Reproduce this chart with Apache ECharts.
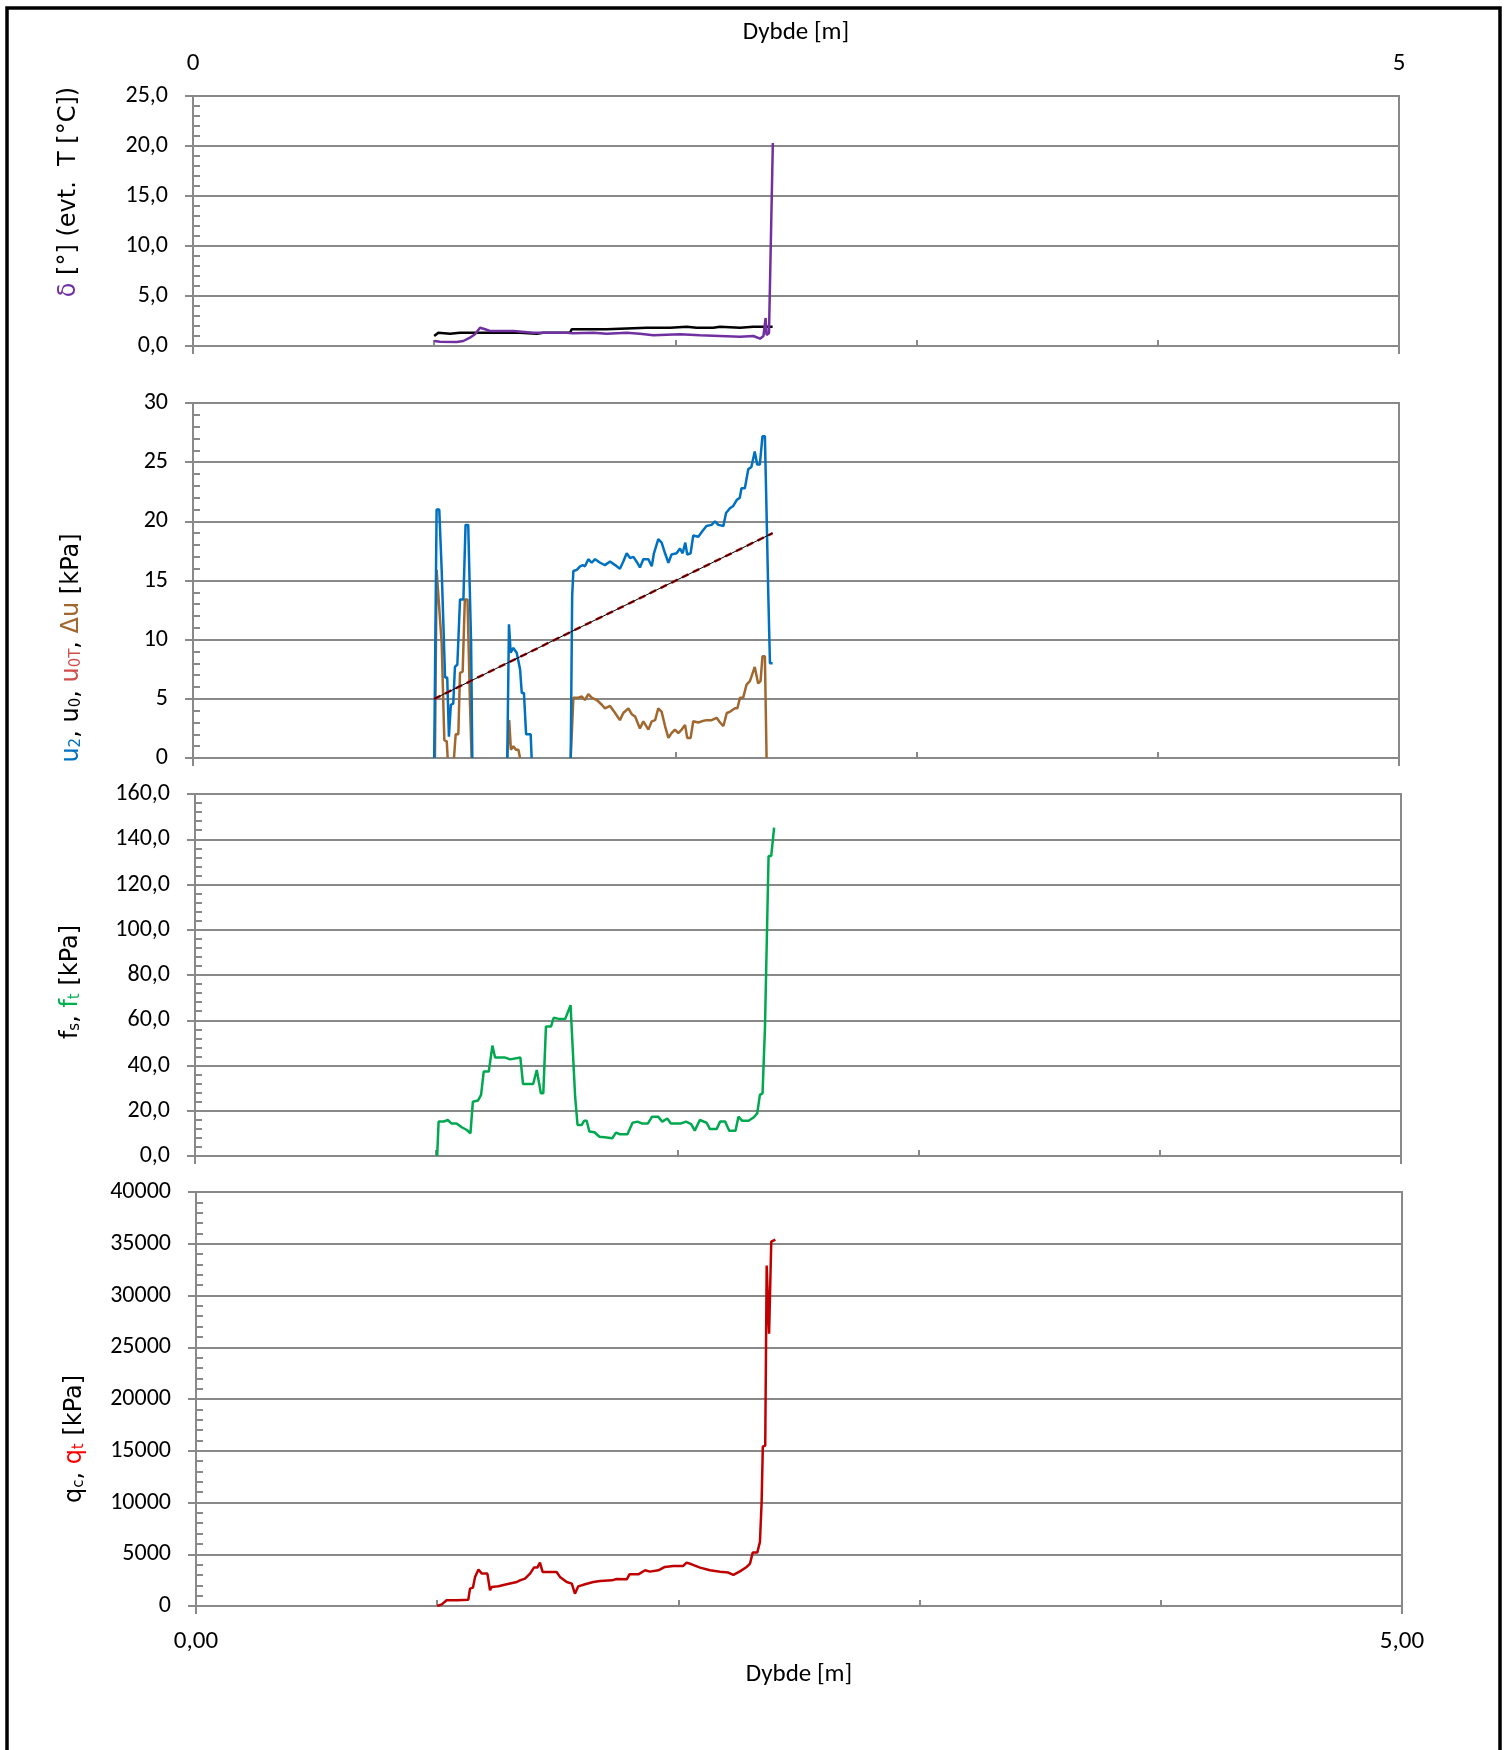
<!DOCTYPE html>
<html>
<head>
<meta charset="utf-8"/>
<title>CPT Dybde</title>
<script src="https://cdn.jsdelivr.net/npm/echarts@6/dist/echarts.min.js"></script>
<style>
    html, body { margin: 0; padding: 0; background: #fff; }
    #main { width: 1506px; height: 1750px; }
</style>
</head>
<body>
<div id="main"></div>
<script>
// --- data (dybde i m) ---
// panel 1: helning (lilla) og sort kurve
var deltaDepth = [1.000, 1.024, 1.093, 1.121, 1.148, 1.169, 1.190, 1.211, 1.231, 1.328, 1.411, 1.549, 1.577, 1.660, 1.715, 1.798, 1.853, 1.909, 2.019, 2.102, 2.185, 2.268, 2.323, 2.351, 2.365, 2.374, 2.378, 2.383, 2.388, 2.404];
var delta = [0.5, 0.43, 0.4, 0.5, 0.83, 1.17, 1.83, 1.67, 1.5, 1.5, 1.33, 1.33, 1.27, 1.33, 1.23, 1.33, 1.23, 1.07, 1.17, 1.07, 1.0, 0.93, 1.0, 0.73, 1.0, 2.8, 1.1, 1.3, 1.3, 20.3];
var blackDepth = [1.000, 1.017, 1.066, 1.107, 1.190, 1.356, 1.425, 1.452, 1.563, 1.570, 1.715, 1.770, 1.881, 1.978, 2.047, 2.088, 2.157, 2.185, 2.268, 2.323, 2.403];
var blackVal = [1.0, 1.33, 1.23, 1.33, 1.33, 1.33, 1.23, 1.33, 1.33, 1.67, 1.67, 1.73, 1.83, 1.83, 1.93, 1.83, 1.83, 1.93, 1.83, 1.93, 1.93];

// panel 2: poretryk (null = hul i kurven)
var u2Depth = [1.000, 1.010, 1.021, 1.031, 1.045, 1.054, 1.061, 1.069, 1.079, 1.086, 1.096, 1.107, 1.121, 1.130, 1.141, 1.153, 1.158,
    1.230,
    1.303, 1.310, 1.317, 1.328, 1.342, 1.356, 1.363, 1.372, 1.381, 1.400, 1.404,
    1.480,
    1.566, 1.572, 1.577, 1.591, 1.605, 1.616, 1.625, 1.639, 1.653, 1.667, 1.688, 1.708, 1.729, 1.750, 1.770, 1.784, 1.798, 1.812, 1.826,
    1.842, 1.853, 1.867, 1.888, 1.902, 1.911, 1.929, 1.943, 1.957, 1.971, 1.984, 2.005, 2.019, 2.030, 2.041, 2.049, 2.063, 2.074, 2.095,
    2.113, 2.129, 2.150, 2.164, 2.178, 2.199, 2.210, 2.226, 2.240, 2.254, 2.267, 2.274, 2.288, 2.302, 2.315, 2.329, 2.339, 2.350, 2.361,
    2.371, 2.378, 2.385, 2.392, 2.403];
var u2 = [0, 21.0, 21.0, 15.9, 6.8, 6.8, 1.8, 4.5, 4.6, 7.7, 7.9, 13.4, 13.4, 19.7, 19.7, 9.7, 0,
    null,
    0, 11.3, 8.9, 9.3, 8.9, 7.5, 5.5, 5.5, 2.0, 2.0, 0,
    null,
    0, 13.7, 15.8, 15.9, 16.2, 16.3, 16.2, 16.8, 16.5, 16.8, 16.5, 16.3, 16.6, 16.3, 16.0, 16.6, 17.3, 16.9, 17.0,
    16.5, 16.1, 16.8, 16.8, 16.2, 17.3, 18.5, 18.2, 17.3, 16.5, 17.2, 17.3, 17.7, 17.3, 18.2, 17.2, 17.3, 18.8, 18.7,
    19.2, 19.6, 19.7, 20.0, 19.7, 19.6, 20.7, 21.1, 21.3, 21.8, 22.0, 22.8, 22.8, 24.4, 24.6, 25.9, 24.8, 24.8, 27.2,
    27.2, 20.7, 13.9, 8.0, 8.0];

var duDepth = [1.003, 1.010, 1.017, 1.031, 1.042, 1.052, 1.056,
    1.070,
    1.082, 1.089, 1.100, 1.107, 1.118, 1.127, 1.138, 1.148, 1.155,
    1.230,
    1.303, 1.311, 1.318, 1.328, 1.339, 1.349, 1.356,
    1.460,
    1.566, 1.577, 1.598, 1.612, 1.625, 1.639, 1.653, 1.674, 1.695, 1.708, 1.729, 1.750, 1.770, 1.784, 1.805, 1.819, 1.833, 1.853,
    1.867, 1.888, 1.902, 1.916, 1.929, 1.943, 1.957, 1.971, 1.984, 1.998, 2.012, 2.026, 2.040, 2.049, 2.063, 2.074, 2.095, 2.109,
    2.129, 2.150, 2.171, 2.185, 2.199, 2.213, 2.226, 2.247, 2.257, 2.268, 2.281, 2.295, 2.309, 2.329, 2.343, 2.353, 2.361, 2.371, 2.378];
var du = [0, 15.9, 15.9, 9.7, 1.5, 1.4, 0,
    null,
    0, 2.0, 2.0, 7.2, 7.3, 13.4, 13.4, 4.9, 0,
    null,
    0, 3.2, 0.7, 1.0, 0.7, 0.7, 0,
    null,
    0, 5.1, 5.1, 5.2, 4.9, 5.4, 5.1, 4.9, 4.5, 4.2, 4.4, 3.8, 3.2, 3.8, 4.2, 3.7, 3.5, 2.5,
    3.1, 2.4, 3.1, 3.2, 4.2, 3.9, 2.7, 1.7, 2.1, 2.4, 2.1, 2.4, 2.8, 1.7, 1.7, 3.1, 3.0, 3.1,
    3.2, 3.2, 3.4, 3.0, 2.7, 3.8, 3.9, 4.2, 4.2, 5.1, 5.1, 6.2, 6.5, 7.7, 6.3, 6.5, 8.6, 8.6, 0];

var u0Depth = [1.0, 2.403];
var u0 = [5.0, 19.0];

// panel 3: friktion
var ftDepth = [1.004, 1.010, 1.031, 1.048, 1.063, 1.084, 1.106, 1.127, 1.142, 1.152, 1.173, 1.186, 1.197, 1.218, 1.233, 1.244,
    1.286, 1.307, 1.349, 1.360, 1.402, 1.417, 1.434, 1.444, 1.455, 1.476, 1.487, 1.508, 1.535, 1.557, 1.565, 1.576, 1.586,
    1.603, 1.614, 1.624, 1.635, 1.656, 1.677, 1.698, 1.730, 1.745, 1.762, 1.793, 1.814, 1.835, 1.852, 1.878, 1.895, 1.920,
    1.937, 1.958, 1.973, 2.015, 2.036, 2.057, 2.072, 2.093, 2.121, 2.135, 2.163, 2.177, 2.198, 2.215, 2.241, 2.253, 2.268,
    2.295, 2.317, 2.331, 2.342, 2.353, 2.363, 2.370, 2.378, 2.389, 2.401];
var ft = [0, 15.2, 15.2, 15.9, 14.4, 14.4, 12.7, 11.5, 10.0, 24.0, 24.5, 27.0, 37.3, 37.3, 48.8, 43.5,
    43.5, 42.7, 43.5, 31.8, 31.8, 38.0, 27.7, 27.7, 57.2, 57.2, 61.1, 60.6, 60.6, 66.7, 66.7, 26.2, 13.7,
    13.7, 15.6, 15.6, 10.8, 10.5, 8.5, 8.3, 7.8, 10.3, 9.6, 9.6, 14.7, 15.2, 14.4, 14.4, 17.4, 17.4,
    15.2, 16.6, 14.4, 14.4, 15.2, 14.1, 11.2, 15.9, 14.7, 11.9, 11.9, 15.2, 15.2, 11.2, 11.2, 17.4, 15.6,
    15.6, 17.1, 18.9, 27.0, 27.7, 56.4, 56.4, 132.6, 132.6, 145.1];

// panel 4: spidsmodstand
var qtDepth = [1.000, 1.019, 1.039, 1.081, 1.129, 1.136, 1.148, 1.157, 1.171, 1.185, 1.208, 1.219, 1.226, 1.254, 1.288, 1.330,
    1.343, 1.364, 1.385, 1.401, 1.415, 1.426, 1.437, 1.461, 1.495, 1.509, 1.537, 1.558, 1.571, 1.585, 1.613, 1.647, 1.675,
    1.724, 1.744, 1.786, 1.797, 1.834, 1.862, 1.882, 1.917, 1.944, 1.979, 2.020, 2.034, 2.055, 2.090, 2.131, 2.173, 2.207,
    2.228, 2.255, 2.283, 2.297, 2.308, 2.327, 2.338, 2.345, 2.350, 2.360, 2.366, 2.376, 2.385, 2.402];
var qt = [0, 160, 550, 550, 610, 1680, 1770, 2810, 3520, 3130, 3130, 1520, 1840, 1900, 2100, 2320,
    2480, 2650, 3130, 3710, 3710, 4190, 3290, 3290, 3290, 2810, 2320, 2160, 1190, 1900, 2100, 2320, 2420,
    2480, 2610, 2580, 3060, 3060, 3450, 3320, 3450, 3770, 3870, 3870, 4190, 4030, 3710, 3450, 3320, 3230,
    3000, 3350, 3770, 4100, 5160, 5160, 6190, 10000, 15400, 15500, 32900, 26300, 35200, 35400];

// akser
var yMax = [25, 30, 160, 40000];
var yStep = [5, 5, 20, 5000];

function zip(xs, ys) {
    var out = [];
    for (var i = 0; i < xs.length; i++) {
        out.push(ys[i] === null ? [xs[i], '-'] : [xs[i], ys[i]]);
    }
    return out;
}

var GRAY = '#898989';
var LABEL_FONT = 'Carlito, Lato, sans-serif';
var TITLE_FONT = '"DejaVu Sans", Verdana, sans-serif';

var grids = [
    {left: 193, top: 96, width: 1206, height: 250},
    {left: 193, top: 403, width: 1206, height: 355},
    {left: 195, top: 794, width: 1206, height: 362},
    {left: 196, top: 1192, width: 1206, height: 414}
];
grids.forEach(function (g) {
    g.show = true;
    g.borderColor = GRAY;
    g.borderWidth = 2;
    g.containLabel = false;
});

var xAxes = [];
var yAxes = [];
var yFormat = [
    function (v) { return v.toFixed(1).replace('.', ','); },
    function (v) { return String(v); },
    function (v) { return v.toFixed(1).replace('.', ','); },
    function (v) { return String(v); }
];
for (var i = 0; i < 4; i++) {
    // inner ticks every meter
    xAxes.push({
        type: 'value', gridIndex: i, position: 'bottom', min: 0, max: 5, interval: 1,
        axisLine: {show: true, lineStyle: {color: GRAY, width: 2}},
        axisTick: {show: true, inside: true, length: 6, lineStyle: {color: GRAY, width: 2}},
        axisLabel: {show: false},
        splitLine: {show: false}
    });
    yAxes.push({
        type: 'value', gridIndex: i, position: 'left', min: 0, max: yMax[i], interval: yStep[i],
        axisLine: {show: true, lineStyle: {color: GRAY, width: 2}},
        axisTick: {show: true, inside: false, length: 8, lineStyle: {color: GRAY, width: 2}},
        axisLabel: {
            show: true, margin: 25, color: '#000', fontSize: 24, fontFamily: LABEL_FONT,
            formatter: yFormat[i]
        },
        splitLine: {show: true, lineStyle: {color: GRAY, width: 2}}
    });
}
for (var j = 0; j < 4; j++) {
    // crossing ticks at 0 and 5 m
    var xb = {
        type: 'value', gridIndex: j, position: 'bottom', min: 0, max: 5, interval: 5,
        axisLine: {show: false},
        axisTick: {show: true, inside: false, length: 8, lineStyle: {color: GRAY, width: 2}},
        axisLabel: {show: false},
        splitLine: {show: false}
    };
    if (j === 3) {
        xb.axisLabel = {
            show: true, margin: 23, color: '#000', fontSize: 25, fontFamily: LABEL_FONT,
            formatter: function (v) { return v.toFixed(2).replace('.', ','); }
        };
        xb.name = 'Dybde [m]';
        xb.nameLocation = 'middle';
        xb.nameGap = 56;
        xb.nameTextStyle = {color: '#000', fontSize: 25, fontFamily: LABEL_FONT};
    }
    xAxes.push(xb);
    // minor ticks inside
    yAxes.push({
        type: 'value', gridIndex: j, position: 'left', offset: 0, min: 0, max: yMax[j], interval: yStep[j],
        axisLine: {show: false},
        axisTick: {show: true, inside: true, length: 7, lineStyle: {color: GRAY, width: 2}},
        minorTick: {show: true, splitNumber: 5, length: 7, lineStyle: {color: GRAY, width: 2}},
        axisLabel: {show: false},
        splitLine: {show: false}
    });
}
// top depth axis of first panel
xAxes.push({
    type: 'value', gridIndex: 0, position: 'top', min: 0, max: 5, interval: 5,
    axisLine: {show: false},
    axisTick: {show: false},
    axisLabel: {show: true, margin: 20, color: '#000', fontSize: 25, fontFamily: LABEL_FONT},
    splitLine: {show: false},
    name: 'Dybde [m]',
    nameLocation: 'middle',
    nameGap: 51,
    nameTextStyle: {color: '#000', fontSize: 25, fontFamily: LABEL_FONT}
});

function line(name, xi, yi, data, color, width, extra) {
    var s = {
        name: name, type: 'line', xAxisIndex: xi, yAxisIndex: yi, data: data,
        symbol: 'none', showSymbol: false, connectNulls: false, silent: true,
        lineStyle: {color: color, width: width}
    };
    if (extra) { Object.assign(s.lineStyle, extra); }
    return s;
}

var series = [
    line('T', 0, 0, zip(blackDepth, blackVal), '#000000', 2.5),
    line('delta', 0, 0, zip(deltaDepth, delta), '#7030A0', 2.5),
    line('du', 1, 1, zip(duDepth, du), '#A0672F', 2.5),
    line('u2', 1, 1, zip(u2Depth, u2), '#0070C0', 2.5),
    line('u0T', 1, 1, zip(u0Depth, u0), '#C00000', 2.5, {type: [7, 5]}),
    line('u0', 1, 1, zip(u0Depth, u0), '#000000', 1),
    line('ft', 2, 2, zip(ftDepth, ft), '#00A84F', 2.5),
    line('qt', 3, 3, zip(qtDepth, qt), '#C00000', 2.5)
];

var main = {fontSize: 24, lineHeight: 24, fontFamily: TITLE_FONT};
var sub = {fontSize: 15, lineHeight: 8, verticalAlign: 'bottom', fontFamily: TITLE_FONT};
function st(base, color) {
    var o = Object.assign({}, base);
    o.fill = color;
    o.color = color;
    return o;
}
function title(x, y, text, rich) {
    return {
        type: 'text', x: x, y: y, rotation: Math.PI / 2, z: 10,
        style: {text: text, rich: rich, align: 'center', verticalAlign: 'middle', fill: '#000', fontSize: 24, fontFamily: TITLE_FONT}
    };
}

var graphics = [
    {
        type: 'rect', z: 20, silent: true,
        shape: {x: 7, y: 8, width: 1493, height: 1800},
        style: {fill: 'none', stroke: '#000', lineWidth: 3.5}
    },
    title(69, 192, '{p|δ}{k| [°] (evt.  T [°C])}', {p: st(main, '#7030A0'), k: st(main, '#000')}),
    title(72, 648, '{b|u}{bs|2}{k|, u}{ks|0}{k|, }{r|u}{rs|0T}{k|, }{n|Δu}{k| [kPa]}', {
        b: st(main, '#0070C0'), bs: st(sub, '#0070C0'),
        k: st(main, '#000'), ks: st(sub, '#000'),
        r: st(main, '#D0504D'), rs: st(sub, '#D0504D'),
        n: st(main, '#A0672F')
    }),
    title(71, 982, '{k|f}{ks|s}{k|, }{g|f}{gs|t}{k| [kPa]}', {
        k: st(main, '#000'), ks: st(sub, '#000'),
        g: st(main, '#00B050'), gs: st(sub, '#00B050')
    }),
    title(75, 1439, '{k|q}{ks|c}{k|, }{r|q}{rs|t}{k| [kPa]}', {
        k: st(main, '#000'), ks: st(sub, '#000'),
        r: st(main, '#FF0000'), rs: st(sub, '#FF0000')
    })
];

var chart = echarts.init(document.getElementById('main'), null, {renderer: 'canvas'});
chart.setOption({
    animation: false,
    backgroundColor: '#fff',
    grid: grids,
    xAxis: xAxes,
    yAxis: yAxes,
    series: series,
    graphic: graphics
});
</script>
</body>
</html>
